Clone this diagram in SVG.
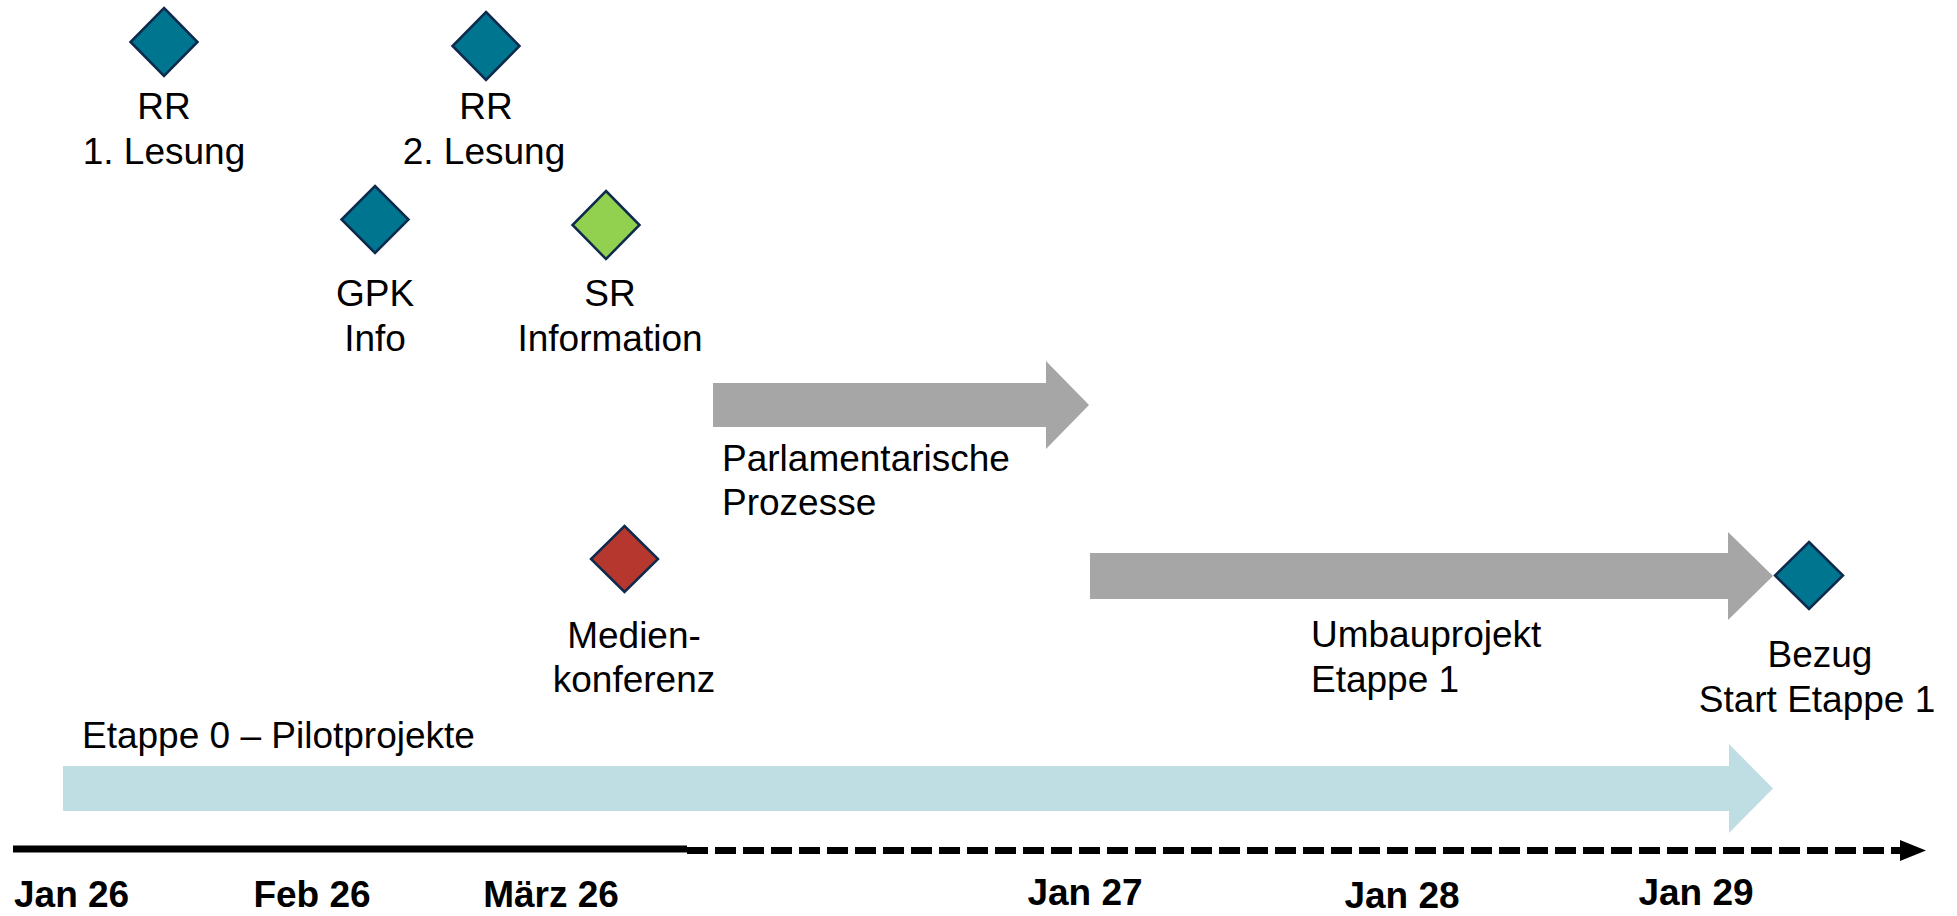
<svg xmlns="http://www.w3.org/2000/svg" width="1957" height="916" viewBox="0 0 1957 916">
<defs>
<style>
.lbl{font-family:"Liberation Sans",Arial,sans-serif;font-size:37px;fill:#000}
.c{text-anchor:middle}
.date{font-family:"Liberation Sans",Arial,sans-serif;font-size:37px;font-weight:bold;fill:#000}
.ms{stroke:#0E2A4C;stroke-width:2.5}
.teal{fill:#00758F}
.green{fill:#92D050}
.red{fill:#B5372E}
.gray{fill:#A6A6A6}
.lb{fill:#BFDEE4}
</style>
<marker id="ah" viewBox="0 0 10 10" refX="10" refY="5" markerWidth="3.2" markerHeight="3" markerUnits="strokeWidth" orient="auto">
<path d="M0,0 L10,5 L0,10 Z" fill="#000"/>
</marker>
</defs>
<rect width="1957" height="916" fill="#fff"/>

<g id="connectors">
<line x1="13" y1="849" x2="687" y2="849" stroke="#000" stroke-width="7"/>
<line x1="687" y1="850.5" x2="1905" y2="850.5" stroke="#000" stroke-width="7" stroke-dasharray="21 7"/>
<path d="M1900,840 L1926,850.5 L1900,861 Z" fill="#000"/>
</g>

<g id="arrow-etappe0">
<path class="lb" d="M63,766 L1729,766 L1729,744 L1773,788.5 L1729,833 L1729,811 L63,811 Z"/>
<text class="lbl" x="82" y="748">Etappe 0 – Pilotprojekte</text>
</g>

<g id="arrow-parlament">
<path class="gray" d="M713,383 L1046,383 L1046,361 L1089,405 L1046,449 L1046,427 L713,427 Z"/>
<text class="lbl" x="722" y="471">Parlamentarische</text>
<text class="lbl" x="722" y="515">Prozesse</text>
</g>

<g id="arrow-umbau">
<path class="gray" d="M1090,553 L1728,553 L1728,532 L1773,576 L1728,620 L1728,599 L1090,599 Z"/>
<text class="lbl" x="1311" y="647">Umbauprojekt</text>
<text class="lbl" x="1311" y="692">Etappe 1</text>
</g>

<g id="rr1">
<path class="teal ms" d="M164,8 L197.5,42 L164,76 L130.5,42 Z"/>
<text class="lbl c" x="164" y="119">RR</text>
<text class="lbl c" x="164" y="164">1. Lesung</text>
</g>

<g id="rr2">
<path class="teal ms" d="M486,12 L519.5,46 L486,80 L452.5,46 Z"/>
<text class="lbl c" x="486" y="119">RR</text>
<text class="lbl c" x="484" y="164">2. Lesung</text>
</g>

<g id="gpk">
<path class="teal ms" d="M375,186 L408.5,219.5 L375,253 L341.5,219.5 Z"/>
<text class="lbl c" x="375" y="306">GPK</text>
<text class="lbl c" x="375" y="351">Info</text>
</g>

<g id="sr">
<path class="green ms" d="M606,191 L639.5,225 L606,259 L572.5,225 Z"/>
<text class="lbl c" x="610" y="306">SR</text>
<text class="lbl c" x="610" y="351">Information</text>
</g>

<g id="medien">
<path class="red ms" d="M624.5,526 L658,559 L624.5,592 L591,559 Z"/>
<text class="lbl c" x="634" y="648">Medien-</text>
<text class="lbl c" x="634" y="692">konferenz</text>
</g>

<g id="bezug">
<path class="teal ms" d="M1809,542 L1843,575.5 L1809,609 L1775,575.5 Z"/>
<text class="lbl c" x="1820" y="667">Bezug</text>
<text class="lbl c" x="1817" y="712">Start Etappe 1</text>
</g>

<g id="dates">
<text class="date" x="14" y="907">Jan 26</text>
<text class="date c" x="312" y="907">Feb 26</text>
<text class="date c" x="551" y="907">März 26</text>
<text class="date c" x="1085" y="905">Jan 27</text>
<text class="date c" x="1402" y="908">Jan 28</text>
<text class="date c" x="1696" y="905">Jan 29</text>
</g>
</svg>
